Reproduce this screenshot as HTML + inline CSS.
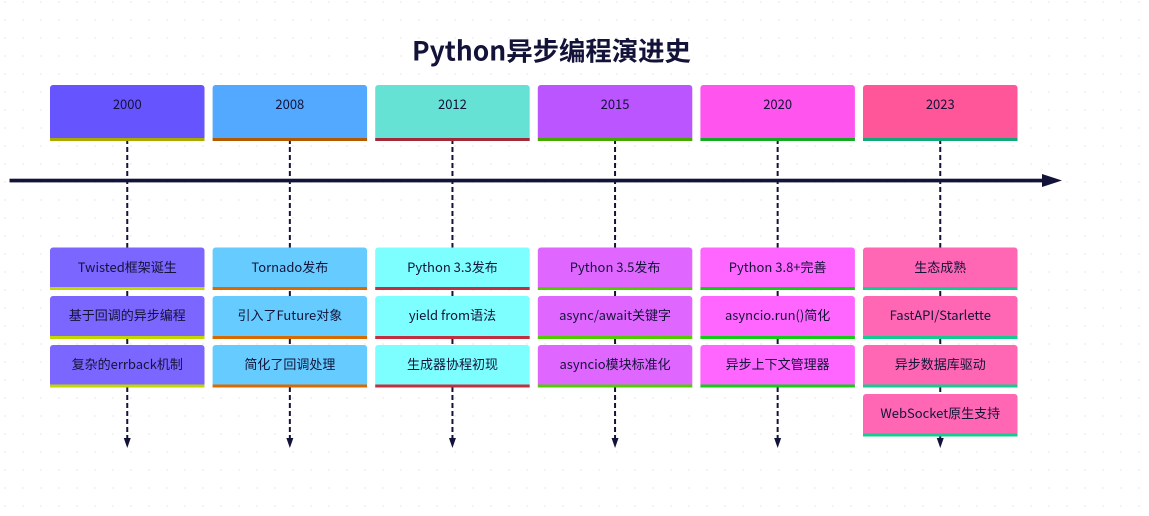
<!DOCTYPE html>
<html><head><meta charset="utf-8"><style>
html,body{margin:0;padding:0;background:#fff;width:1149px;height:516px;overflow:hidden}
svg{display:block}
text{font-family:"WenQuanYi Zen Hei","Noto Sans CJK SC",sans-serif;font-size:13px;fill:#131339;text-anchor:middle;dominant-baseline:central;transform:translateY(-1px)}
</style></head><body>
<svg width="1149" height="516" viewBox="0 0 1149 516" xmlns="http://www.w3.org/2000/svg">
<defs>
<pattern id="d" x="-4" y="-7" width="18" height="18" patternUnits="userSpaceOnUse"><circle cx="9" cy="9" r="1" fill="#f0f0f2"/></pattern>
<g id="arrow"><path d="M-3.500 438L3.500 438L0 448Z" fill="#131339"/></g>
</defs>
<rect width="1149" height="516" fill="#fff"/>
<rect width="1149" height="516" fill="url(#d)"/>
<text x="551.500" y="50" style="font-family:'Noto Sans CJK SC',sans-serif;font-size:26.400px;font-weight:700;fill:#131339">Python异步编程演进史</text>

<g stroke="#131339" stroke-width="2" stroke-dasharray="5 3" fill="none">
<path d="M127.250 139V440M289.850 139V440M452.450 139V440M615.050 139V440M777.650 139V440M940.250 139V440"/>
</g>
<use href="#arrow" x="127.250"/><use href="#arrow" x="289.850"/><use href="#arrow" x="452.450"/><use href="#arrow" x="615.050"/><use href="#arrow" x="777.650"/><use href="#arrow" x="940.250"/>

<rect x="9.500" y="178.700" width="1036" height="3.700" fill="#131339"/>
<path d="M1042 174L1062 180.500L1042 187Z" fill="#131339"/>

<!-- 2000 -->
<g>
<rect x="50" y="85" width="154.500" height="56" rx="3" fill="#6655FF"/><rect x="50" y="138" width="154.500" height="3" fill="#AAAA00"/><text x="127.250" y="104.500">2000</text>
<rect x="50" y="247.500" width="154.500" height="42" rx="3" fill="#7B66FF"/><rect x="50" y="287" width="154.500" height="3" fill="#C4D600"/><text x="127.250" y="267.500">Twisted框架诞生</text>
<rect x="50" y="296" width="154.500" height="42" rx="3" fill="#7B66FF"/><rect x="50" y="336" width="154.500" height="3" fill="#C4D600"/><text x="127.250" y="315.500">基于回调的异步编程</text>
<rect x="50" y="345" width="154.500" height="42" rx="3" fill="#7B66FF"/><rect x="50" y="384.500" width="154.500" height="3" fill="#C4D600"/><text x="127.250" y="364.500">复杂的errback机制</text>
</g>
<!-- 2008 -->
<g>
<rect x="212.600" y="85" width="154.500" height="56" rx="3" fill="#52A9FF"/><rect x="212.600" y="138" width="154.500" height="3" fill="#B35900"/><text x="289.850" y="104.500">2008</text>
<rect x="212.600" y="247.500" width="154.500" height="42" rx="3" fill="#66CCFF"/><rect x="212.600" y="287" width="154.500" height="3" fill="#D96A00"/><text x="289.850" y="267.500">Tornado发布</text>
<rect x="212.600" y="296" width="154.500" height="42" rx="3" fill="#66CCFF"/><rect x="212.600" y="336" width="154.500" height="3" fill="#D96A00"/><text x="289.850" y="315.500">引入了Future对象</text>
<rect x="212.600" y="345" width="154.500" height="42" rx="3" fill="#66CCFF"/><rect x="212.600" y="384.500" width="154.500" height="3" fill="#D96A00"/><text x="289.850" y="364.500">简化了回调处理</text>
</g>
<!-- 2012 -->
<g>
<rect x="375.200" y="85" width="154.500" height="56" rx="3" fill="#66E2D5"/><rect x="375.200" y="138" width="154.500" height="3" fill="#A12A3A"/><text x="452.450" y="104.500">2012</text>
<rect x="375.200" y="247.500" width="154.500" height="42" rx="3" fill="#7DFFFF"/><rect x="375.200" y="287" width="154.500" height="3" fill="#C42F40"/><text x="452.450" y="267.500">Python 3.3发布</text>
<rect x="375.200" y="296" width="154.500" height="42" rx="3" fill="#7DFFFF"/><rect x="375.200" y="336" width="154.500" height="3" fill="#C42F40"/><text x="452.450" y="315.500">yield from语法</text>
<rect x="375.200" y="345" width="154.500" height="42" rx="3" fill="#7DFFFF"/><rect x="375.200" y="384.500" width="154.500" height="3" fill="#C42F40"/><text x="452.450" y="364.500">生成器协程初现</text>
</g>
<!-- 2015 -->
<g>
<rect x="537.800" y="85" width="154.500" height="56" rx="3" fill="#BB55FF"/><rect x="537.800" y="138" width="154.500" height="3" fill="#44AA00"/><text x="615.050" y="104.500">2015</text>
<rect x="537.800" y="247.500" width="154.500" height="42" rx="3" fill="#DF66FF"/><rect x="537.800" y="287" width="154.500" height="3" fill="#52CC00"/><text x="615.050" y="267.500">Python 3.5发布</text>
<rect x="537.800" y="296" width="154.500" height="42" rx="3" fill="#DF66FF"/><rect x="537.800" y="336" width="154.500" height="3" fill="#52CC00"/><text x="615.050" y="315.500">async/await关键字</text>
<rect x="537.800" y="345" width="154.500" height="42" rx="3" fill="#DF66FF"/><rect x="537.800" y="384.500" width="154.500" height="3" fill="#52CC00"/><text x="615.050" y="364.500">asyncio模块标准化</text>
</g>
<!-- 2020 -->
<g>
<rect x="700.400" y="85" width="154.500" height="56" rx="3" fill="#FF55EE"/><rect x="700.400" y="138" width="154.500" height="3" fill="#11AA22"/><text x="777.650" y="104.500">2020</text>
<rect x="700.400" y="247.500" width="154.500" height="42" rx="3" fill="#FF66FF"/><rect x="700.400" y="287" width="154.500" height="3" fill="#14CC14"/><text x="777.650" y="267.500">Python 3.8+完善</text>
<rect x="700.400" y="296" width="154.500" height="42" rx="3" fill="#FF66FF"/><rect x="700.400" y="336" width="154.500" height="3" fill="#14CC14"/><text x="777.650" y="315.500">asyncio.run()简化</text>
<rect x="700.400" y="345" width="154.500" height="42" rx="3" fill="#FF66FF"/><rect x="700.400" y="384.500" width="154.500" height="3" fill="#14CC14"/><text x="777.650" y="364.500">异步上下文管理器</text>
</g>
<!-- 2023 -->
<g>
<rect x="863" y="85" width="154.500" height="56" rx="3" fill="#FF5599"/><rect x="863" y="138" width="154.500" height="3" fill="#11AA77"/><text x="940.250" y="104.500">2023</text>
<rect x="863" y="247.500" width="154.500" height="42" rx="3" fill="#FF66B3"/><rect x="863" y="287" width="154.500" height="3" fill="#14CC8F"/><text x="940.250" y="267.500">生态成熟</text>
<rect x="863" y="296" width="154.500" height="42" rx="3" fill="#FF66B3"/><rect x="863" y="336" width="154.500" height="3" fill="#14CC8F"/><text x="940.250" y="315.500">FastAPI/Starlette</text>
<rect x="863" y="345" width="154.500" height="42" rx="3" fill="#FF66B3"/><rect x="863" y="384.500" width="154.500" height="3" fill="#14CC8F"/><text x="940.250" y="364.500">异步数据库驱动</text>
<rect x="863" y="394" width="154.500" height="42" rx="3" fill="#FF66B3"/><rect x="863" y="433.500" width="154.500" height="3" fill="#14CC8F"/><text x="940.250" y="413.500">WebSocket原生支持</text>
</g>
</svg>
</body></html>
